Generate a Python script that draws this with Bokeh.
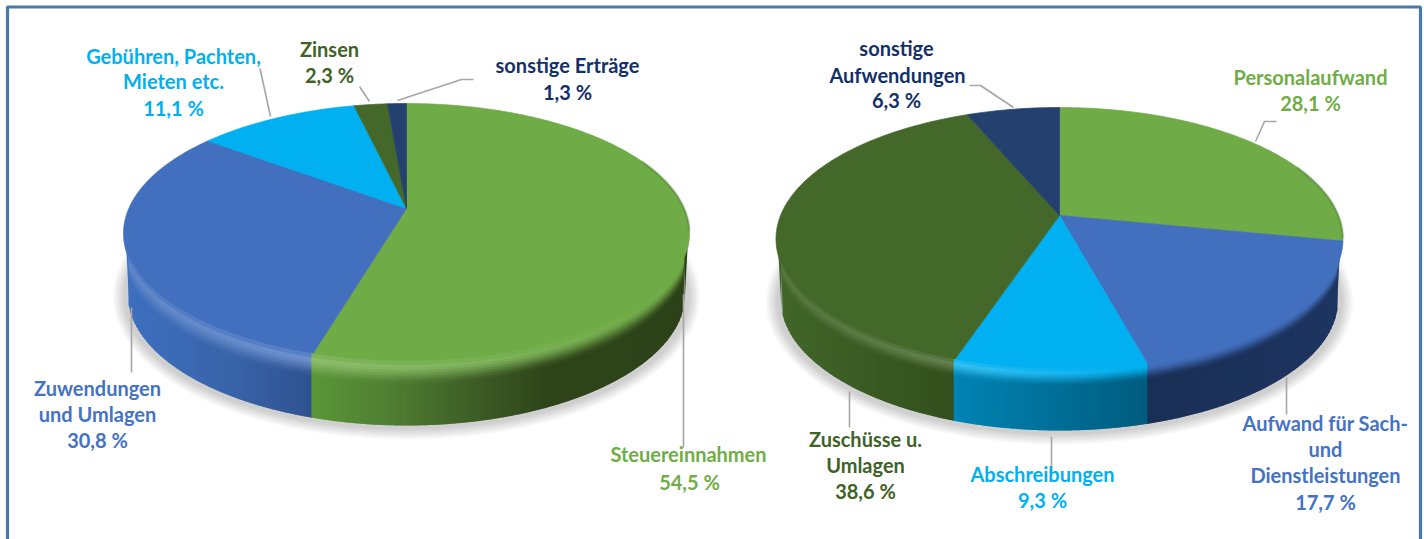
import numpy as np
from bokeh.plotting import figure
from bokeh.models import Range1d, ColumnDataSource
from bokeh.core.properties import value
from bokeh.embed import file_html
from bokeh.resources import INLINE

# ---- data ----
income_names = ["Steuereinnahmen", "Zuwendungen und Umlagen", "Gebühren, Pachten, Mieten etc.", "Zinsen", "sonstige Erträge"]
income_values = [54.5, 30.8, 11.1, 2.3, 1.3]
expense_names = ["Personalaufwand", "Aufwand für Sach- und Dienstleistungen", "Abschreibungen", "Zuschüsse u. Umlagen", "sonstige Aufwendungen"]
expense_values = [28.1, 17.7, 9.3, 38.6, 6.3]

GREEN, BLUE, CYAN, DGREEN, NAVY = "#6fab46", "#4270bf", "#00b0f0", "#44682a", "#24406f"
income_colors = [GREEN, BLUE, CYAN, DGREEN, NAVY]
expense_colors = [GREEN, BLUE, CYAN, DGREEN, NAVY]

# side colours: (fraction across the visible rim from left to right, colour)
income_side = [
    [(0, "#5b9638"), (0.2, "#507f32"), (0.45, "#3c5a25"), (0.62, "#2e4519"), (1, "#2c4118")],
    [(0, "#3e70c0"), (0.6, "#3863a8"), (1, "#2f5290")],
    [(0, "#0084b4"), (1, "#015c7e")],
    [(0, "#42672a"), (1, "#334f1c")],
    [(0, "#1c3158"), (1, "#1d3561")],
]
expense_side = [
    [(0, "#2c4119"), (1, "#2c4119")],
    [(0, "#1a2f55"), (1, "#1d3561")],
    [(0, "#0084b4"), (1, "#015c7e")],
    [(0, "#42672a"), (1, "#334f1c")],
    [(0, "#1c3158"), (1, "#1d3561")],
]
# rim highlight strength (left end, right end) per slice
income_hl = [(0.22, 0.0), (0.16, 0.24), (0, 0), (0, 0), (0, 0)]
expense_hl = [(0, 0), (0, 0), (0.22, 0.0), (0.10, 0.18), (0, 0)]

income_pie = dict(cx=406, apex=208, top=103, bot=363, rx=283, by=293, bry=132, brx=279, fade=1.35)
expense_pie = dict(cx=1059, apex=215, top=107, bot=370, rx=283.5, by=298.5, bry=131.5, brx=279, fade=1.0)

# label lines: (text, centre x, centre y, colour)
fmt = lambda v: f"{v:.1f} %".replace(".", ",")
TEXT_GREEN, TEXT_DG, TEXT_NAVY = "#70ad47", "#3f6227", "#14306a"
TEXT_BLUE, TEXT_CYAN = "#4472c4", "#00b0f0"
labels = [
    ("Gebühren, Pachten,", 173, 55, TEXT_CYAN), ("Mieten etc.", 173, 80, TEXT_CYAN), (fmt(income_values[2]), 173, 107, TEXT_CYAN),
    ("Zinsen", 329, 48, TEXT_DG), (fmt(income_values[3]), 329, 74, TEXT_DG),
    ("sonstige Erträge", 567, 64, TEXT_NAVY), (fmt(income_values[4]), 567, 91, TEXT_NAVY),
    ("Zuwendungen", 97, 387, TEXT_BLUE), ("und Umlagen", 97, 413, TEXT_BLUE), (fmt(income_values[1]), 97, 439, TEXT_BLUE),
    ("Steuereinnahmen", 688, 453, TEXT_GREEN), (fmt(income_values[0]), 689, 481, TEXT_GREEN),
    ("sonstige", 896, 47, TEXT_NAVY), ("Aufwendungen", 897, 74, TEXT_NAVY), (fmt(expense_values[4]), 896, 99, TEXT_NAVY),
    ("Personalaufwand", 1310, 76, TEXT_GREEN), (fmt(expense_values[0]), 1310, 102, TEXT_GREEN),
    ("Aufwand für Sach-", 1325, 422, TEXT_BLUE), ("und", 1325, 448, TEXT_BLUE), ("Dienstleistungen", 1325, 474, TEXT_BLUE), (fmt(expense_values[1]), 1325, 501, TEXT_BLUE),
    ("Abschreibungen", 1042, 473, TEXT_CYAN), (fmt(expense_values[2]), 1042, 499, TEXT_CYAN),
    ("Zuschüsse u.", 865, 438, TEXT_DG), ("Umlagen", 865, 464, TEXT_DG), (fmt(expense_values[3]), 865, 490, TEXT_DG),
]
# leader lines
leaders = [
    ([359, 369], [86, 101]),
    ([259.5, 270], [68, 116]),
    ([397, 461, 473], [100, 79, 79]),
    ([131, 131], [307, 372]),
    ([683, 683], [294, 447]),
    ([969, 980, 1013], [85, 85, 107]),
    ([1255, 1264, 1276], [141, 121, 121]),
    ([1286, 1286], [377, 414]),
    ([1051, 1051], [436, 472]),
    ([849, 849], [391, 427]),
]


def rgb(h):
    return np.array([int(h[i:i + 2], 16) for i in (1, 3, 5)], float)


def hexc(c):
    c = np.clip(np.round(c), 0, 255).astype(int)
    return "#%02x%02x%02x" % tuple(c)


def make_proj(pie):
    b = pie["apex"]
    t, bo = pie["top"], pie["bot"]
    c = (2 * b - t - bo) / (t - bo)
    a = t * (1 + c) - b
    k = pie["rx"] * np.sqrt(1 - c * c)

    def proj(theta):
        u, v = np.sin(theta), np.cos(theta)
        w = 1 + c * v
        return pie["cx"] + k * u / w, (a * v + b) / w
    return proj


p = figure(width=1424, height=539, x_range=Range1d(0, 1424), y_range=Range1d(539, 0),
           output_backend="svg", toolbar_location=None, min_border=0,
           x_axis_type=None, y_axis_type=None, outline_line_color=None)
p.grid.visible = False
p.background_fill_color = "white"
p.border_fill_color = "white"

# frame
p.line([7, 7, 1420, 1420], [539, 6.5, 6.5, 539], line_color="#4a78a8", line_width=3.2)


def draw_pie(pie, values, colors, sides, hls):
    proj = make_proj(pie)
    # shadow
    for i in range(12, 0, -1):
        p.ellipse(pie["cx"], pie["by"] + 3, width=2 * (pie["brx"] + i + 3), height=2 * (pie["bry"] + i * 0.95),
                  fill_color="#000000", fill_alpha=0.016, line_color=None)

    cum = np.cumsum(values) / 100.0 * 2 * np.pi
    starts = np.concatenate([[0], cum[:-1]])
    # top face
    xs, ys, cs = [], [], []
    for s, e, col in zip(starts, cum, colors):
        th = np.linspace(s, e, max(8, int((e - s) * 120)))
        X, Y = proj(th)
        xs.append([pie["cx"]] + list(X))
        ys.append([pie["apex"]] + list(Y))
        cs.append(col)
    p.patches(xs, ys, fill_color=cs, line_color=cs, line_width=0.7)

    # soft dark edge on the upper right of the rim
    th = np.radians(np.linspace(66, 100, 60))
    X, Y = proj(th)
    for w_, a_ in ((4, 0.06), (2, 0.10)):
        p.line(X, Y, line_color="#1e2e10", line_alpha=a_, line_width=w_)

    # rim
    grid = np.linspace(0, 2 * np.pi, 6000)
    GX, GY = proj(grid)
    iR, iL = int(np.argmax(GX)), int(np.argmin(GX))
    rx_, ry_, rt_ = GX[iR:iL + 1][::-1], GY[iR:iL + 1][::-1], grid[iR:iL + 1][::-1]
    xL, xR = rx_[0], rx_[-1]
    bx = proj(cum)[0]
    edges = np.unique(np.concatenate([[xL], np.arange(np.ceil(xL), xR, 2.0), [xR],
                                      [b for b, a_ in zip(bx, cum) if xL < b < xR and grid[iR] < a_ < grid[iL]]]))
    mids = (edges[:-1] + edges[1:]) / 2
    mid_th = np.interp(mids, rx_, rt_)
    idx = np.searchsorted(cum, mid_th)
    sx0 = {i: edges[:-1][idx == i].min() for i in set(idx.tolist())}
    sx1 = {i: edges[1:][idx == i].max() for i in set(idx.tolist())}

    def rim(x):
        return np.interp(x, rx_, ry_)

    def bottom(x):
        d = np.clip(1 - ((x - pie["cx"]) / pie["brx"]) ** 2, 0, None)
        e2 = pie["by"] + pie["bry"] * np.sqrt(d)
        return np.where(np.abs(x - pie["cx"]) >= pie["brx"], rim(x), np.maximum(e2, rim(x)))

    stops = np.array([-2, 1, 3, 5, 7, 9, 11, 13, 15, 17.0])
    xs, ys, cs = [], [], []
    for x0, x1, i in zip(edges[:-1], edges[1:], idx):
        x1o = min(x1 + 1.0, xR)          # strips overlap the next one, so no white seams
        xm = (x0 + x1) / 2
        f = (xm - sx0[i]) / max(sx1[i] - sx0[i], 1)
        side_st = sides[i]
        ff = [q[0] for q in side_st]
        ccs = np.array([rgb(q[1]) for q in side_st])
        side = np.array([np.interp(f, ff, ccs[:, j]) for j in range(3)])
        top = rgb(colors[i])
        h = hls[i][0] + (hls[i][1] - hls[i][0]) * f
        hl = top + (255 - top) * h
        r0, r1 = rim(x0), rim(x1o)
        b0, b1 = float(bottom(x0)), float(bottom(x1o))
        sc = np.clip((float(bottom(xm)) - float(rim(xm))) / 50.0, 0, 1) * pie["fade"]
        off = stops * sc
        seg = list(zip(off[:-1], off[1:])) + [(off[-1], 1e4)]
        for o0, o1 in seg:
            om = (o0 + o1) / 2 / max(sc, 0.01)
            if o1 > 1e3:
                c = side
            elif om < 1:
                c = top + (hl - top) * ((om + 2) / 3)
            else:
                tt = min((om - 1) / 15, 1)
                tt = tt * tt * (3 - 2 * tt)
                c = hl + (side - hl) * tt
            yA0, yA1 = min(r0 + o0, b0), min(r1 + o0, b1)
            yB0, yB1 = min(r0 + o1 + 1, b0), min(r1 + o1 + 1, b1)
            if yB0 - yA0 < 0.01 and yB1 - yA1 < 0.01:
                continue
            xs.append([x0, x1o, x1o, x0])
            ys.append([yA0, yA1, yB1, yB0])
            cs.append(hexc(c))
    p.patches(xs, ys, fill_color=cs, line_color=None)


draw_pie(income_pie, income_values, income_colors, income_side, income_hl)
draw_pie(expense_pie, expense_values, expense_colors, expense_side, expense_hl)

p.multi_line([l[0] for l in leaders], [l[1] for l in leaders], line_color="#a6a6a6", line_width=1.6)

src = ColumnDataSource(dict(t=[l[0] for l in labels], x=[l[1] for l in labels],
                            y=[l[2] for l in labels], c=[l[3] for l in labels]))
p.text("x", "y", text="t", source=src, text_color="c", text_align="center", text_baseline="middle",
       text_font=value("Lato"), text_font_style="bold", text_font_size="20px")

html = file_html(p, INLINE)
html = html.replace("</head>", "<style>html,body{margin:0!important;padding:0;overflow:hidden}</style></head>", 1)
open("out.html", "w").write(html)
